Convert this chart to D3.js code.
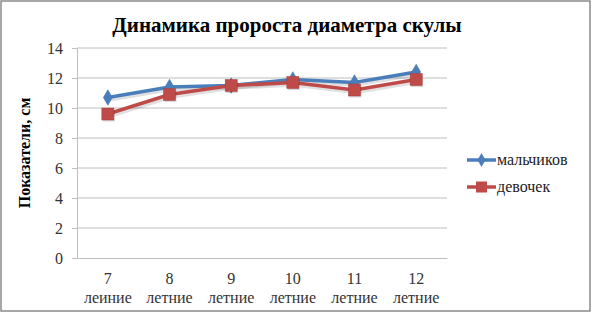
<!doctype html>
<html lang="ru">
<head>
  <meta charset="utf-8">
  <script src="https://d3js.org/d3.v7.min.js"></script>
</head>
<body style="margin:0">
<div id="viz"></div>
<script>
// data
var categories = ["7", "8", "9", "10", "11", "12"];
var subLabels = ["леиние", "летние", "летние", "летние", "летние", "летние"];
var boys = [10.7, 11.4, 11.5, 11.9, 11.7, 12.4];
var girls = [9.6, 10.9, 11.5, 11.7, 11.2, 11.9];
var yTicks = [0, 2, 4, 6, 8, 10, 12, 14];
var seriesNames = ["мальчиков", "девочек"];

var FONT = "'Times New Roman'";

var W = 592, H = 314;
var margin = {top: 48, left: 77, right: 145, bottom: 56};
var width = W - margin.left - margin.right,
    height = H - margin.top - margin.bottom;

var svg = d3.select("#viz").append("svg")
    .attr("width", W).attr("height", H);

// outer frame
svg.append("rect")
    .attr("x", 1).attr("y", 1).attr("width", 589).attr("height", 310)
    .attr("fill", "none").attr("stroke", "#8a8a8a").attr("stroke-width", 1.5);

// title
svg.append("text")
    .attr("x", 287).attr("y", 32)
    .attr("text-anchor", "middle")
    .style("font-size", "21px").style("font-weight", "bold")
    .text("Динамика пророста диаметра скулы");

var g = svg.append("g")
    .attr("transform", "translate(" + margin.left + "," + margin.top + ")");

var x = d3.scaleBand().domain(categories).range([0, width]);
var y = d3.scaleLinear().domain([0, 14]).range([height, 0]);

// gridlines
g.selectAll(".grid").data(yTicks.filter(d => d > 0)).enter()
  .append("line")
    .attr("x1", 0).attr("x2", width)
    .attr("y1", d => y(d)).attr("y2", d => y(d))
    .attr("stroke", "#bebebe").attr("stroke-width", 1);

// left axis
var ya = g.append("g").call(d3.axisLeft(y).tickValues(yTicks).tickSize(5).tickPadding(9));
ya.select(".domain").attr("stroke", "#bebebe");
ya.selectAll(".tick line").attr("stroke", "#bebebe");
ya.selectAll("text").style("font-size", "16px").attr("fill", "#333");

// bottom axis
var xa = g.append("g")
    .attr("transform", "translate(0," + height + ")")
    .call(d3.axisBottom(x).tickSize(0).tickPadding(15));
xa.select(".domain").attr("stroke", "#bebebe");
xa.selectAll("text").style("font-size", "16px").attr("fill", "#333");
xa.selectAll(".tick").append("text")
    .attr("y", 45)
    .attr("fill", "#333")
    .attr("text-anchor", "middle")
    .style("font-size", "16px")
    .text((d, i) => subLabels[i]);

// y axis title
svg.append("text")
    .attr("transform", "translate(30," + (margin.top + height / 2) + ") rotate(-90)")
    .attr("text-anchor", "middle")
    .style("font-size", "16px").style("font-weight", "bold")
    .text("Показатели, см");

var cx = (d, i) => x(categories[i]) + x.bandwidth() / 2;
var line = d3.line().x(cx).y(d => y(d));

var colors = ["#4a7ebb", "#be4b48"];

// soft shadows under both lines
[boys, girls].forEach(function(s) {
  g.append("path").datum(s)
      .attr("d", line).attr("fill", "none")
      .attr("transform", "translate(1,2)")
      .attr("stroke", "#000").attr("stroke-opacity", 0.12).attr("stroke-width", 4.5);
});

// boys
g.append("path").datum(boys)
    .attr("d", line).attr("fill", "none")
    .attr("stroke", colors[0]).attr("stroke-width", 3.5);
g.selectAll(".boy").data(boys).enter().append("path")
    .attr("d", d3.symbol(d3.symbolDiamond, 70))
    .attr("transform", (d, i) => "translate(" + cx(d, i) + "," + y(d) + ")")
    .attr("fill", colors[0]).attr("stroke", "#3f6fa8").attr("stroke-width", 0.5);

// girls
g.append("path").datum(girls)
    .attr("d", line).attr("fill", "none")
    .attr("stroke", colors[1]).attr("stroke-width", 3.5);
g.selectAll(".girlsh").data(girls).enter().append("rect")
    .attr("x", (d, i) => cx(d, i) - 5)
    .attr("y", d => y(d) - 4.5)
    .attr("width", 12).attr("height", 12)
    .attr("fill", "#000").attr("fill-opacity", 0.15);
g.selectAll(".girl").data(girls).enter().append("rect")
    .attr("x", (d, i) => cx(d, i) - 6)
    .attr("y", d => y(d) - 6)
    .attr("width", 12).attr("height", 12)
    .attr("fill", colors[1]).attr("stroke", "#a83e3b").attr("stroke-width", 0.5);

// legend
var legend = svg.append("g").attr("transform", "translate(467,160)");
seriesNames.forEach(function(name, i) {
  var row = legend.append("g").attr("transform", "translate(0," + (i * 27) + ")");
  row.append("line").attr("x1", 0).attr("x2", 29)
      .attr("stroke", colors[i]).attr("stroke-width", 3.5);
  if (i === 0) {
    row.append("path").attr("d", d3.symbol(d3.symbolDiamond, 55))
        .attr("transform", "translate(14.5,0)").attr("fill", colors[0]);
  } else {
    row.append("rect").attr("x", 9).attr("y", -5.5).attr("width", 11).attr("height", 11)
        .attr("fill", colors[1]);
  }
  row.append("text").attr("x", 30).attr("y", 5)
      .style("font-size", "16px").attr("fill", "#222")
      .text(name);
});

// one font for every text, set last so nothing overrides it
svg.selectAll("g").attr("font-family", null);
svg.selectAll("text").attr("font-family", "Times New Roman").style("font-family", FONT);
</script>
</body>
</html>
